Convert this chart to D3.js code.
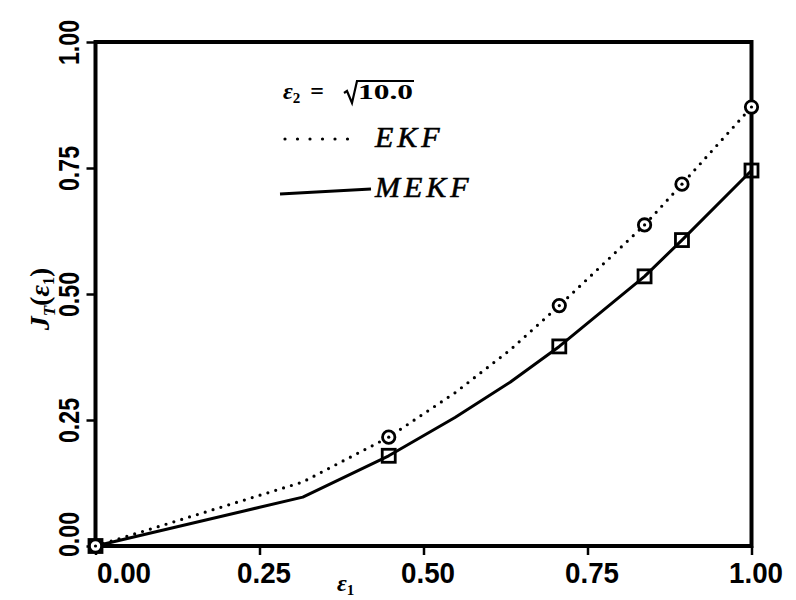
<!DOCTYPE html>
<html>
<head>
<meta charset="utf-8">
<script src="https://cdn.jsdelivr.net/npm/d3@7"></script>
<style>
  body { margin: 0; background: #fff; }
  svg { display: block; }
</style>
</head>
<body>
<svg id="chart" width="796" height="600"></svg>
<script>
// ε1 values along the horizontal axis
const eps1 = [0, 0.316, 0.447, 0.548, 0.632, 0.707, 0.837, 0.894, 1.0];
// J_T(ε1) for the two filters
const ekf  = [0, 0.127, 0.216, 0.304, 0.389, 0.477, 0.637, 0.718, 0.871];
const mekf = [0, 0.097, 0.179, 0.255, 0.325, 0.396, 0.535, 0.607, 0.745];
// which computed points carry a symbol
const marked = [true, false, true, false, false, true, true, true, true];

const xTicks = [0, 0.25, 0.5, 0.75, 1.0];
const yTicks = [0, 0.25, 0.5, 0.75, 1.0];
const seriesNames = ["EKF", "MEKF"];
const paramText = { sym: "ε", sub: "2", eq: " =", root: "10.0" };

const W = 796, H = 600;
const svg = d3.select("#chart");
svg.append("rect").attr("width", W).attr("height", H).attr("fill", "#fff");

const x = d3.scaleLinear().domain([0, 1]).range([95.5, 751.5]);
const y = d3.scaleLinear().domain([0, 1]).range([546, 42]);

const ink = "#000";
const tickFont = "'Liberation Sans', Arial, sans-serif";
const serif = "'Liberation Serif', 'Times New Roman', serif";

// ---- axes ----
const gx = svg.append("g")
  .attr("transform", `translate(0,${y(0)})`)
  .call(d3.axisBottom(x).tickValues(xTicks).tickFormat(d3.format(".2f"))
    .tickSize(9).tickSizeOuter(0).tickPadding(7));
gx.select(".domain").remove();
gx.selectAll(".tick line").attr("stroke", ink).attr("stroke-width", 2.5);
gx.selectAll(".tick text")
  .attr("font-family", tickFont).attr("font-weight", "bold")
  .attr("font-size", 30).attr("fill", ink)
  .attr("textLength", 54).attr("lengthAdjust", "spacingAndGlyphs")
  .attr("dx", d => d === 0 ? 28 : 4);

const gy = svg.append("g")
  .attr("transform", `translate(${x(0)},0)`)
  .call(d3.axisLeft(y).tickValues(yTicks).tickFormat(d3.format(".2f"))
    .tickSize(9).tickSizeOuter(0));
gy.select(".domain").remove();
gy.selectAll(".tick line").attr("stroke", ink).attr("stroke-width", 2.5);
gy.selectAll(".tick text")
  .attr("font-family", tickFont).attr("font-weight", "bold")
  .attr("font-size", 30).attr("fill", ink)
  .attr("textLength", 45).attr("lengthAdjust", "spacingAndGlyphs")
  .attr("transform", "rotate(-90)")
  .attr("text-anchor", "middle")
  .attr("x", d => d === 0 ? 12 : 0)
  .attr("y", -17)
  .attr("dy", 0);

// plot frame
svg.append("rect")
  .attr("x", x(0)).attr("y", y(1))
  .attr("width", x(1) - x(0)).attr("height", y(0) - y(1))
  .attr("fill", "none").attr("stroke", ink).attr("stroke-width", 4);

// axis titles
const xt = svg.append("text")
  .attr("x", 337).attr("y", 591)
  .attr("font-family", serif).attr("font-style", "italic").attr("font-weight", "bold")
  .attr("font-size", 24).attr("fill", ink);
xt.append("tspan").text("ε");
xt.append("tspan").attr("dy", 4).attr("font-size", 15).attr("font-style", "normal").text("1");

const yt = svg.append("text")
  .attr("transform", `translate(49,${y(0.5) + 5}) rotate(-90)`)
  .attr("text-anchor", "middle")
  .attr("font-family", serif).attr("font-style", "italic").attr("font-weight", "bold")
  .attr("font-size", 28).attr("fill", ink);
yt.append("tspan").text("J");
yt.append("tspan").attr("dy", 6).attr("font-size", 17).text("T");
yt.append("tspan").attr("dy", -6).attr("font-style", "normal").text("(");
yt.append("tspan").text("ε");
yt.append("tspan").attr("dy", 5).attr("font-size", 16).attr("font-style", "normal").text("1");
yt.append("tspan").attr("dy", -5).attr("font-style", "normal").text(")");

// ---- data lines ----
const pts = (vals) => eps1.map((e, i) => [e, vals[i], marked[i]]);
const line = d3.line().x(d => x(d[0])).y(d => y(d[1]));

svg.append("path").datum(pts(ekf))
  .attr("d", line).attr("fill", "none").attr("stroke", ink)
  .attr("stroke-width", 3.2).attr("stroke-linecap", "round")
  .attr("stroke-dasharray", "0 8.2");

svg.append("path").datum(pts(mekf))
  .attr("d", line).attr("fill", "none").attr("stroke", ink)
  .attr("stroke-width", 3).attr("stroke-linejoin", "round");

// circle symbols on EKF
const circ = svg.append("g").selectAll("g").data(pts(ekf).filter(d => d[2])).join("g")
  .attr("transform", d => `translate(${x(d[0])},${y(d[1])})`);
circ.append("circle").attr("r", 6.2).attr("fill", "#fff").attr("stroke", ink).attr("stroke-width", 2.8);
circ.append("circle").attr("r", 1.6).attr("fill", ink);

// square symbols on MEKF
svg.append("g").selectAll("rect").data(pts(mekf).filter(d => d[2])).join("rect")
  .attr("x", d => x(d[0]) - 6.5).attr("y", d => y(d[1]) - 6.5)
  .attr("width", 13).attr("height", 13)
  .attr("fill", "none").attr("stroke", ink).attr("stroke-width", 2.8);

// ---- legend ----
const pTxt = svg.append("text")
  .attr("x", 283).attr("y", 99)
  .attr("font-family", serif).attr("font-weight", "bold")
  .attr("font-size", 24).attr("fill", ink);
pTxt.append("tspan").attr("font-style", "italic").text(paramText.sym);
pTxt.append("tspan").attr("dy", 4).attr("font-size", 15).text(paramText.sub);
pTxt.append("tspan").attr("dy", -4).attr("dx", 4).text(paramText.eq);

const rootTxt = svg.append("text")
  .attr("x", 358).attr("y", 99)
  .attr("font-family", serif).attr("font-weight", "bold")
  .attr("font-size", 22).attr("fill", ink)
  .attr("textLength", 55).attr("lengthAdjust", "spacingAndGlyphs")
  .text(paramText.root);

// radical sign joined to its overbar, sized from the radicand
const rb = rootTxt.node().getBBox();
const barY = rb.y + 2, baseY = rb.y + rb.height - 2;
svg.append("path")
  .attr("d", `M${rb.x - 14},${baseY - 9} L${rb.x - 11},${baseY - 11} L${rb.x - 6},${baseY + 1}
              L${rb.x - 1},${barY} L${rb.x + rb.width + 1},${barY}`)
  .attr("fill", "none").attr("stroke", ink).attr("stroke-width", 2.2)
  .attr("stroke-linejoin", "miter");

svg.append("line")
  .attr("x1", 285).attr("x2", 360).attr("y1", 139).attr("y2", 139)
  .attr("stroke", ink).attr("stroke-width", 3.2)
  .attr("stroke-linecap", "round").attr("stroke-dasharray", "0 12.5");
svg.append("line")
  .attr("x1", 280).attr("x2", 371).attr("y1", 194).attr("y2", 189)
  .attr("stroke", ink).attr("stroke-width", 3);

svg.append("g").selectAll("text").data(seriesNames).join("text")
  .attr("x", 375).attr("y", (d, i) => 147 + i * 50)
  .attr("font-family", serif).attr("font-style", "italic")
  .attr("font-size", 30).attr("letter-spacing", 4).attr("fill", ink)
  .attr("stroke", ink).attr("stroke-width", 0.6)
  .text(d => d);
</script>
</body>
</html>
